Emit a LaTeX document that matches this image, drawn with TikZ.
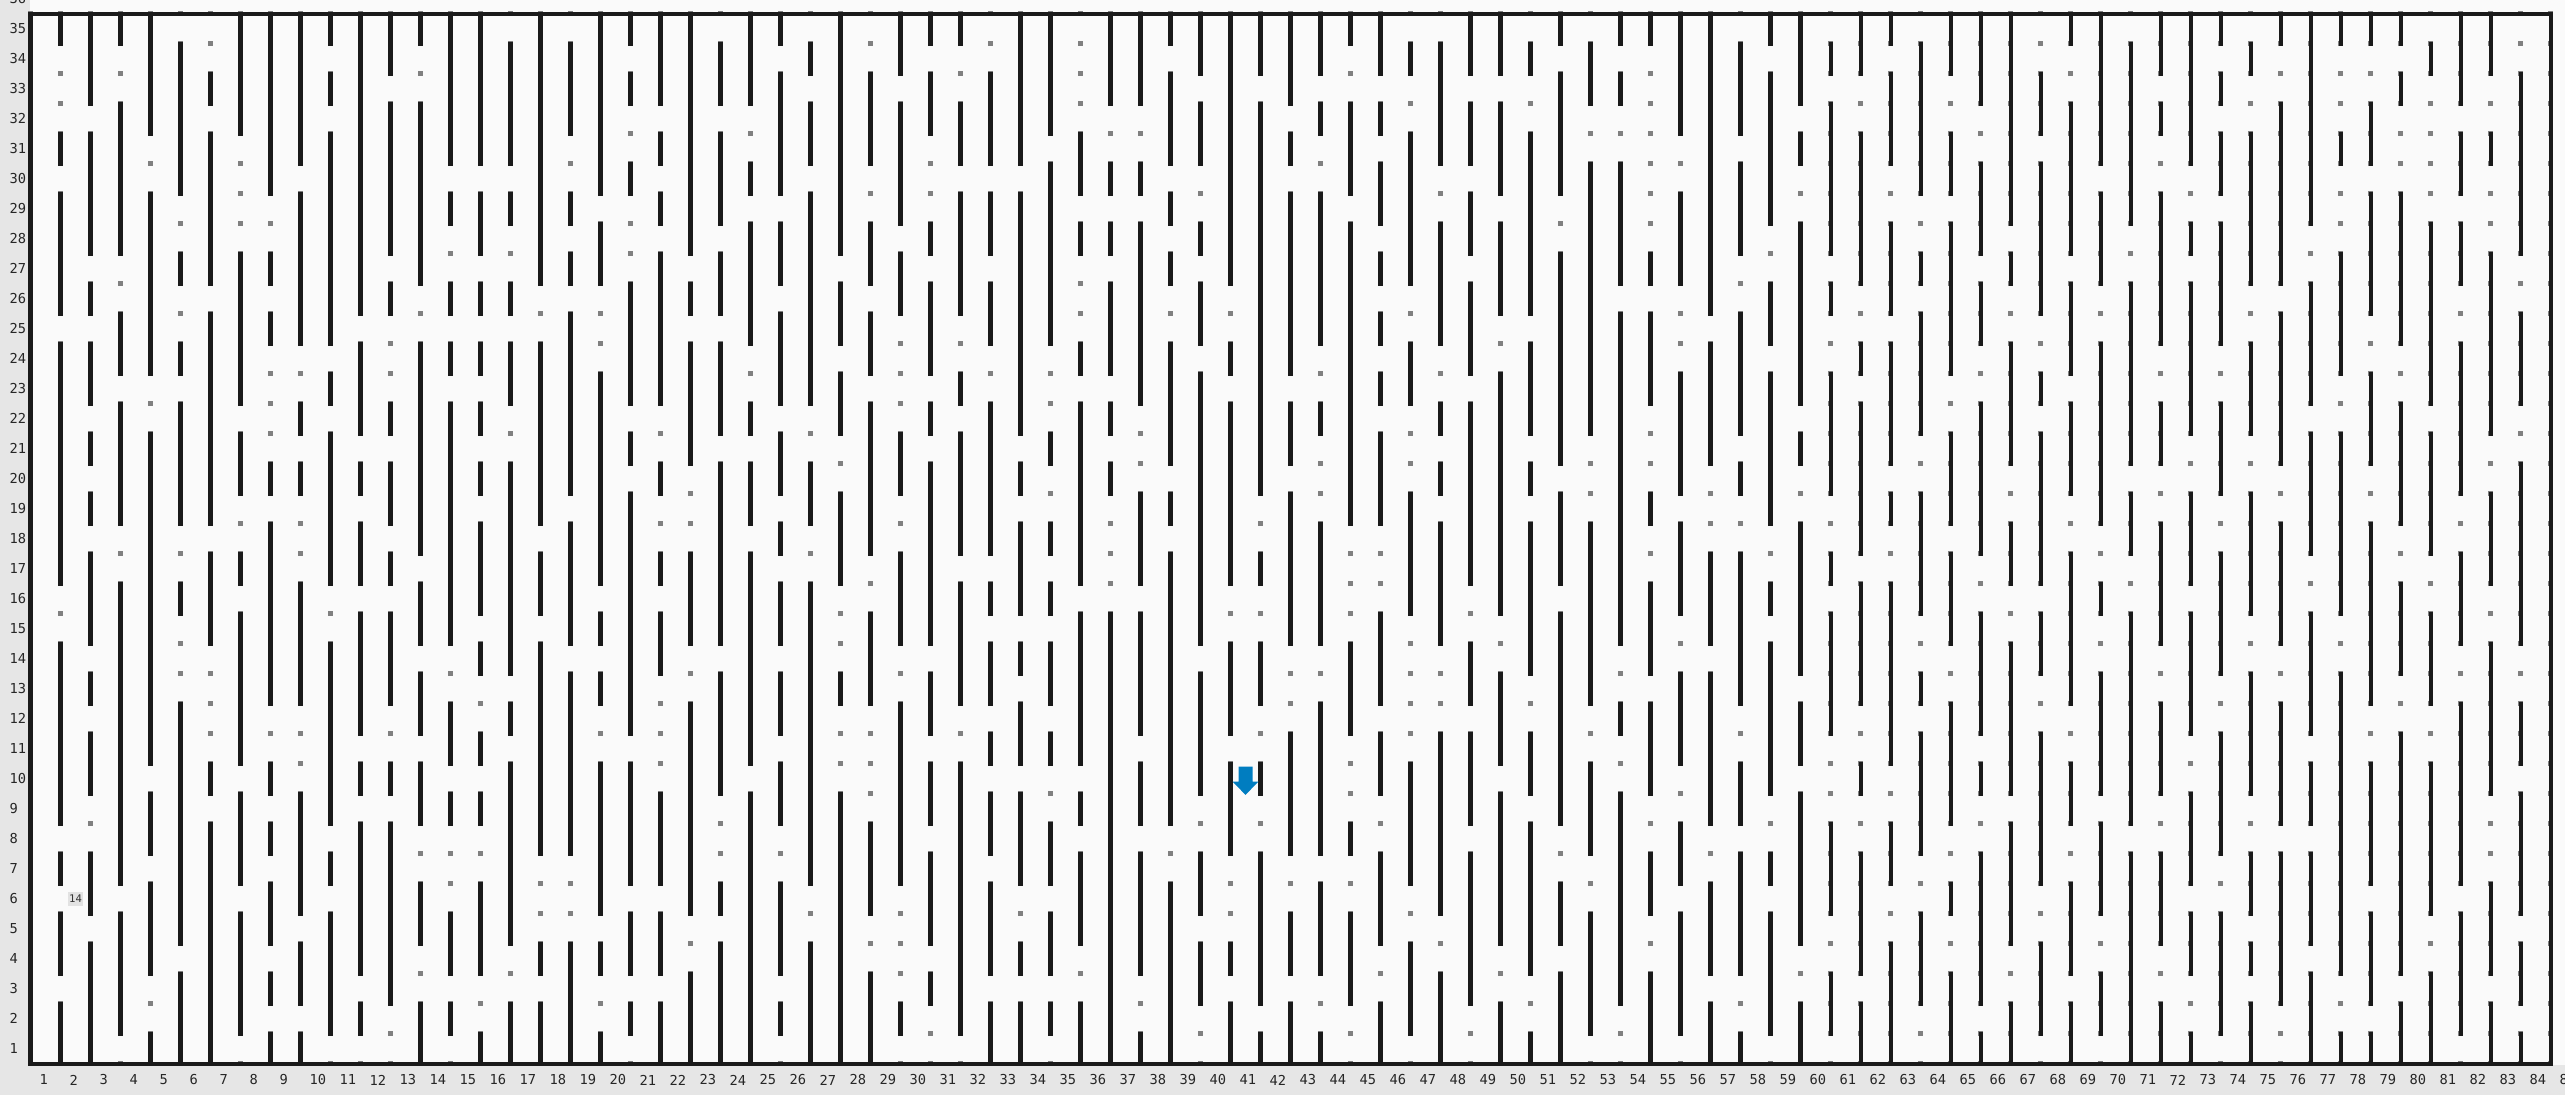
\documentclass[tikz,border=0pt]{standalone}
\usepackage{fontspec}
\newfontfamily\monofont{DejaVu Sans Mono}
\definecolor{wallc}{HTML}{1A1A1A}
\definecolor{dotc}{HTML}{808080}
\definecolor{plotbg}{HTML}{FAFAFA}
\definecolor{axbg}{HTML}{E6E6E6}
\definecolor{arrowc}{RGB}{0,125,192}
\definecolor{tagbg}{HTML}{E2E2E2}
\begin{document}
\begin{tikzpicture}[x=1cm,y=1cm,
  wall/.style={draw=wallc,line width=0.135cm,line cap=rect},
  dotsq/.style={fill=dotc},
  ticklab/.style={font=\monofont\fontsize{13}{15}\selectfont,text=black!85,inner sep=0pt,anchor=west},
  tagbox/.style={fill=tagbg,font=\monofont\fontsize{10}{12}\selectfont,text=black!80,inner sep=0pt,minimum width=0.53cm,minimum height=0.47cm}]
\useasboundingbox (-1.0167,-1.0433) rectangle (84.4833,35.4567);
\fill[axbg] (-1.0167,-1.0433) rectangle (84.4833,35.4567);
\fill[plotbg] (-0.017,-0.05) rectangle (84.4833,35.4567);
% lattice dots
\foreach \i in {0,...,84}{\foreach \j in {0,...,35}{\fill[dotsq] (\i-0.09,\j-0.09) rectangle (\i+0.09,\j+0.09);}}
% walls: column / list of top/bottom runs
\foreach \i/\runs in {
1/{35/34,31/30,29/25,24/16,14/8,7/6,5/3,2/0},
2/{35/32,31/27,26/25,24/22,21/20,19/18,17/14,13/12,11/9,7/5,4/0},
3/{35/34,32/27,25/23,22/18,16/6,5/1},
4/{35/31,29/23,21/10,9/7,6/3,1/0},
5/{34/29,27/26,24/23,22/18,16/15,12/4,3/0},
6/{33/32,31/26,25/18,17/14,10/9,8/0},
7/{35/31,27/22,21/19,17/16,15/10,9/6,5/1},
8/{35/29,27/26,25/24,20/19,18/12,10/9,8/7,6/4,3/2,1/0},
9/{35/30,29/24,22/21,20/19,16/12,9/5,4/2,1/0},
10/{35/34,33/32,31/24,23/22,21/16,14/8,7/6,5/1},
11/{35/25,24/21,20/19,18/16,15/11,10/9,8/3,2/1},
12/{35/33,32/27,26/25,22/21,20/18,17/16,15/12,10/9,8/2},
13/{35/34,32/26,24/17,16/14,13/11,10/8,6/4,2/0},
14/{35/30,29/28,26/25,24/23,22/14,12/10,9/8,5/3,2/1},
15/{35/30,29/27,26/25,24/23,22/21,20/19,18/15,14/13,11/10,9/8,6/3,1/0},
16/{34/30,29/28,26/25,24/22,20/13,12/11,10/4,2/0},
17/{35/26,24/18,17/15,14/7,4/3,2/0},
18/{34/31,29/28,27/26,25/19,18/14,13/7,4/0},
19/{35/29,28/26,23/16,15/14,13/12,10/5,4/3,1/0},
20/{35/34,33/32,30/29,26/22,21/20,19/11,10/6,5/3,2/1},
21/{35/32,31/30,29/28,27/22,20/19,17/16,15/13,9/6,5/3,2/0},
22/{35/27,26/25,24/20,17/14,12/5,3/0},
23/{34/32,31/28,27/25,24/21,20/14,13/9,6/5,4/0},
24/{35/32,30/29,28/24,22/21,20/18,17/10,9/0},
25/{35/34,33/29,28/26,25/22,21/19,18/17,16/14,13/11,10/8,6/3,2/1},
26/{34/33,32/30,29/22,20/18,16/6,4/0},
27/{35/27,26/24,23/21,19/16,13/12,9/0},
28/{33/30,28/26,25/23,22/17,15/12,8/5,3/0},
29/{35/33,32/28,27/25,21/19,17/14,12/6,2/1},
30/{35/34,33/31,28/27,26/23,22/21,20/14,13/11,10/8,7/4,3/2},
31/{35/34,32/30,29/25,23/22,21/17,16/12,10/1},
32/{33/30,29/27,26/24,22/17,16/15,14/12,11/10,9/7,6/3,2/0},
33/{35/30,29/21,20/19,18/15,14/13,12/10,9/6,4/3,2/0},
34/{35/31,30/24,21/20,18/17,16/15,14/12,11/10,8/6,5/3,2/1},
35/{31/29,28/27,24/23,22/16,15/10,9/8,7/4,2/0},
36/{35/32,30/29,28/27,26/23,22/21,20/19,15/0},
37/{35/32,30/29,28/22,19/16,15/11,10/8,7/3,1/0},
38/{35/34,33/30,29/28,27/26,24/20,19/18,17/8,6/0},
39/{35/33,32/30,28/27,26/24,23/14,13/9,7/5,4/2},
40/{35/26,24/23,22/16,14/11,10/7,4/3,2/0},
41/{35/33,32/19,17/16,14/12,10/9,7/2,1/0},
42/{35/32,31/30,29/23,22/20,19/14,11/7,5/3,2/0},
43/{35/33,32/31,29/24,22/21,18/14,12/7,6/3,1/0},
44/{35/34,32/29,28/18,14/11,8/7,5/2},
45/{35/33,32/31,30/28,27/26,25/24,23/22,21/18,15/12,11/9,7/4,2/0},
46/{34/33,31/26,24/22,19/15,10/6,4/1},
47/{34/30,28/24,22/21,20/19,18/14,11/5,3/0},
48/{35/33,32/30,29/27,26/23,22/16,14/12,11/8,7/2},
49/{35/33,32/29,28/25,23/15,13/10,9/4,2/0},
50/{34/33,31/25,24/21,20/19,18/13,11/9,8/3,1/0},
51/{35/34,33/29,27/20,19/16,15/8,6/4,3/0},
52/{34/32,30/21,18/12,10/7,5/1},
53/{35/34,33/32,30/26,25/14,12/11,9/2},
54/{35/34,27/26,25/22,19/18,16/13,12/9,7/5,3/0},
55/{35/31,29/26,23/19,18/15,13/10,8/6,5/1},
56/{35/25,24/20,17/14,13/8,6/3,2/0},
57/{34/31,30/27,25/21,20/19,17/12,10/8,7/3,1/0},
58/{35/34,33/28,26/24,23/18,16/15,14/9,7/6,5/1},
59/{35/32,31/30,28/22,21/20,18/13,12/10,9/4,2/0},
60/{34/33,32/27,26/25,23/19,17/16,15/11,8/5,3/1},
61/{35/33,31/26,24/23,22/17,16/12,10/9,7/3,2/0},
62/{35/34,33/30,28/25,24/20,19/18,16/10,8/6,4/0},
63/{34/29,27/26,25/21,19/15,13/12,11/7,5/2},
64/{35/33,31/29,28/23,21/18,17/14,12/8,6/5,3/0},
65/{35/32,30/27,26/24,22/17,15/11,10/9,7/2,1/0},
66/{35/28,27/26,24/20,18/16,14/9,8/4,2/0},
67/{33/31,30/25,23/22,21/16,15/13,11/6,4/1},
68/{35/34,32/27,26/23,22/19,17/12,10/8,6/3,2/0},
69/{35/30,29/26,24/18,16/15,13/9,8/5,3/1},
70/{34/28,26/20,19/17,15/8,7/0},
71/{35/33,32/31,29/24,22/20,18/14,12/9,7/4,2/0},
72/{35/30,28/27,26/21,19/16,15/11,9/6,5/3,1/0},
73/{35/34,33/32,31/29,28/24,22/19,17/13,11/7,5/1},
74/{34/33,31/26,24/21,19/15,13/9,7/5,4/3,2/0},
75/{35/34,32/26,25/20,18/14,12/8,7/2},
76/{35/28,26/22,21/17,15/11,10/8,7/4,3/0},
77/{35/34,31/30,27/23,21/15,13/3,1/0},
78/{35/34,32/30,29/25,23/20,18/12,10/6,5/2,1/0},
79/{35/34,33/32,29/24,22/18,16/13,11/3,2/0},
80/{34/33,28/22,21/17,15/12,10/5,3/0},
81/{35/32,31/29,28/26,24/19,17/14,12/6,5/1},
82/{35/33,31/30,27/21,19/16,14/9,6/3,2/0},
83/{33/27,25/22,20/14,12/10,9/5,4/2,1/0}}{
  \foreach \t/\b in \runs {\draw[wall] (\i,\t) -- (\i,\b);}
}
% border
\draw[wall] (0,0) rectangle (84,35);
% tick labels
\foreach \n in {1,...,85}{\node[ticklab] (xl\n) at (\n-0.705,-0.543) {\n};}
\foreach \n in {1,...,36}{\node[ticklab] (yl\n) at (-0.70,\n-0.5) {\n};}
% tag and marker
\node[tagbox] (tag) at (1.5,5.5) {14};
\fill[arrowc] (40.267,9.9) -- (40.733,9.9) -- (40.733,9.4) -- (40.927,9.4) -- (40.5,8.96) -- (40.073,9.4) -- (40.267,9.4) -- cycle;
\end{tikzpicture}
\end{document}
